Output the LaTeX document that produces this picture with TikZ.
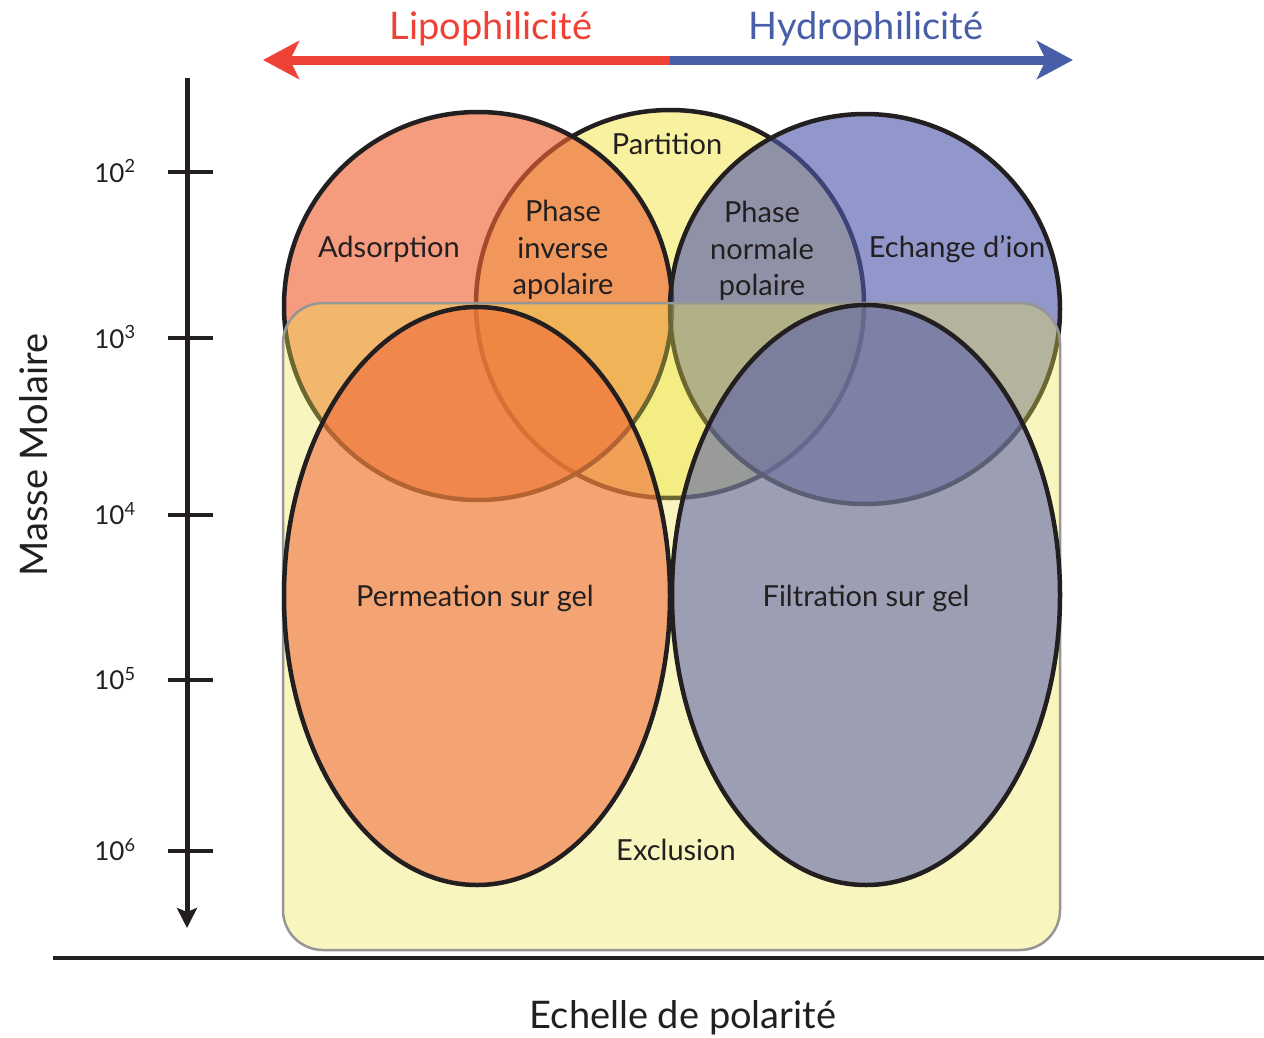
\documentclass[tikz,border=0pt]{standalone}
\usepackage{fontspec}
\setmainfont{Lato}
\usetikzlibrary{arrows.meta}
\definecolor{partfill}{RGB}{248,242,160}
\definecolor{lipo}{RGB}{240,98,51}
\definecolor{hydro}{RGB}{80,88,172}
\definecolor{excl}{RGB}{239,230,80}
\definecolor{redarrow}{RGB}{238,66,54}
\definecolor{bluearrow}{RGB}{72,94,168}
\definecolor{ink}{RGB}{35,31,32}
\definecolor{rectedge}{RGB}{150,150,150}
\begin{document}
\begin{tikzpicture}[x=1pt,y=-1pt,
  zone/.style={draw=ink, line width=4.5pt},
  lbl/.style={font=\fontsize{29}{36.5}\selectfont, text=ink, align=center, inner sep=0pt},
  ticklbl/.style={font=\fontsize{26}{30}\selectfont, text=ink, inner sep=0pt},
  big/.style={font=\fontsize{38}{44}\selectfont, inner sep=0pt},
  tickmark/.style={draw=ink, line width=4.5pt}]
\useasboundingbox (0,0) rectangle (1264,1037);
\fill[white] (0,0) rectangle (1264,1037);

% zones
\draw[zone, fill=partfill] (670,304) circle [radius=194];
\draw[zone, fill=lipo, fill opacity=0.63] (478,306) circle [radius=194];
\draw[zone, fill=hydro, fill opacity=0.62] (865,309) circle [radius=195];
\draw[draw=rectedge, line width=2.5pt, fill=excl, fill opacity=0.36, rounded corners=40pt] (283,303) rectangle (1060,950);
\draw[zone, fill=lipo, fill opacity=0.55] (477,596) ellipse [x radius=193, y radius=289];
\draw[zone, fill=hydro, fill opacity=0.55] (866,595) ellipse [x radius=194, y radius=290];

% labels of zones
\node[lbl] (partition) at (667,144) {Partition};
\node[lbl] (adsorption) at (389,249) {Adsorption};
\node[lbl] (inverse) at (563,250) {Phase\\inverse\\apolaire};
\node[lbl] (normale) at (762,251) {Phase\\normale\\polaire};
\node[lbl] (ion) at (957,249) {Echange d’ion};
\node[lbl] (permeation) at (475,598) {Permeation sur gel};
\node[lbl] (filtration) at (866,598) {Filtration sur gel};
\node[lbl] (exclusion) at (676,850) {Exclusion};

% top arrows
\coordinate (mid) at (670,60);
\coordinate (lefttip) at (263,60);
\coordinate (righttip) at (1073,60);
\draw[redarrow, line width=9pt, -{Stealth[length=36pt, width=38pt, inset=9pt]}] (mid) -- (lefttip);
\draw[bluearrow, line width=9pt, -{Stealth[length=36pt, width=38pt, inset=9pt]}] (mid) -- (righttip);
\node[big, text=redarrow] (lipoT) at (491,29) {Lipophilicité};
\node[big, text=bluearrow] (hydroT) at (866,29) {Hydrophilicité};

% vertical axis
\coordinate (vtop) at (187,78);
\coordinate (vbot) at (187,928);
\draw[ink, line width=5pt, -{Stealth[length=20pt, width=20pt, inset=4pt]}] (vtop) -- (vbot);
\foreach \yy/\ee/\nm in {172/2/a, 338/3/b, 515/4/c, 680/5/d, 851/6/e}{
  \coordinate (tl\nm) at (168,\yy);
  \coordinate (tr\nm) at (213,\yy);
  \draw[tickmark] (tl\nm) -- (tr\nm);
  \node[ticklbl] (lab\nm) at (115,\yy-1) {10\textsuperscript{\ee}};
}
\node[big, rotate=90, text=ink] (masse) at (34,455) {Masse Molaire};

% horizontal axis
\coordinate (hl) at (53,958);
\coordinate (hr) at (1264,958);
\draw[ink, line width=4.5pt] (hl) -- (hr);
\node[big, text=ink] (echelle) at (683,1018) {Echelle de polarité};
\end{tikzpicture}
\end{document}
